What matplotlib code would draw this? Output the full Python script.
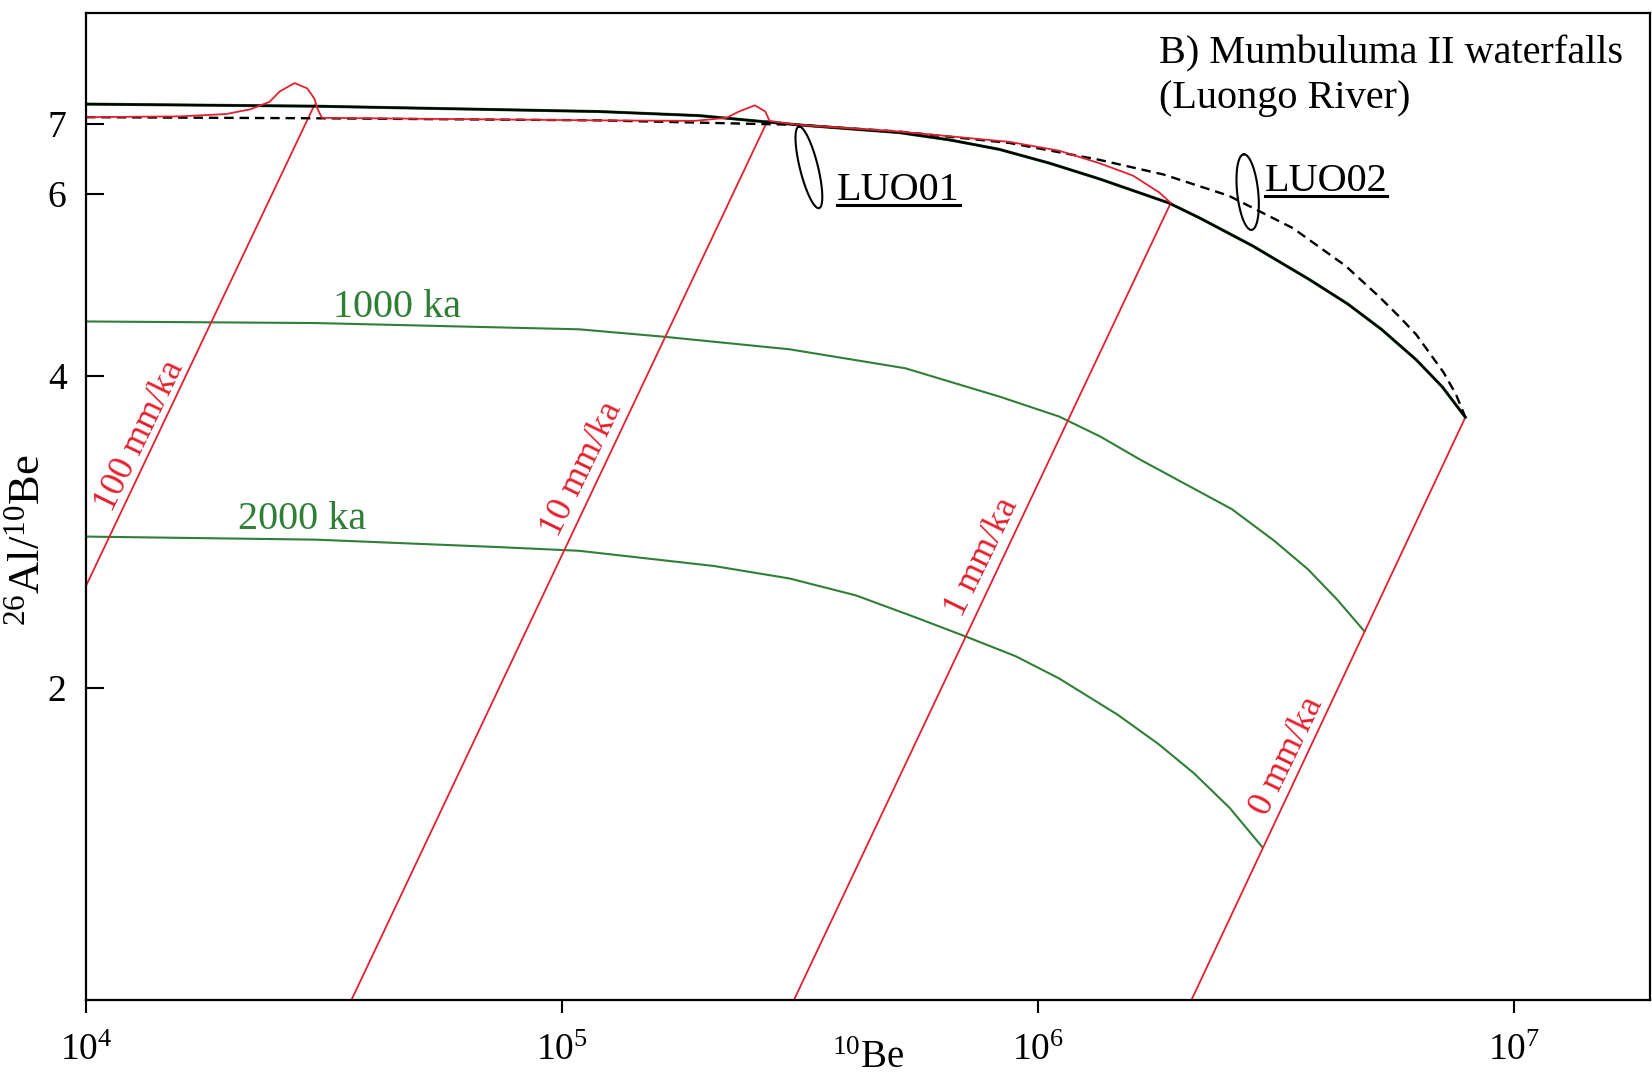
import numpy as np
import matplotlib.pyplot as plt
from matplotlib.lines import Line2D
from matplotlib.transforms import IdentityTransform
from matplotlib.ticker import NullLocator

plt.rcParams['font.family'] = ['Liberation Serif', 'DejaVu Serif']
plt.rcParams['mathtext.fontset'] = 'custom'
plt.rcParams['mathtext.rm'] = 'Liberation Serif'
plt.rcParams['mathtext.it'] = 'Liberation Serif:italic'
plt.rcParams['mathtext.bf'] = 'Liberation Serif:bold'

RED = '#e3202f'
GREEN = '#2f7f36'

# steady state erosion curve (solid black)
ss_be = [1.0e4, 3.035e4, 1.195e5, 1.939e5, 3.131e5, 5.105e5, 6.52e5, 8.284e5,
         1.056e6, 1.344e6, 1.881e6, 2.181e6, 2.827e6, 3.72e6, 4.472e6, 5.263e6,
         6.23e6, 7.07e6, 7.90e6]
ss_r = [7.32, 7.286, 7.20, 7.135, 6.99, 6.871, 6.76, 6.62,
        6.42, 6.20, 5.877, 5.686, 5.34, 4.955, 4.695, 4.438,
        4.147, 3.904, 3.65]

# constant exposure curve (dashed black)
ce_be = [1.0e4, 3.035e4, 1.195e5, 3.131e5, 5.105e5, 8.716e5, 1.344e6, 1.834e6,
         2.514e6, 3.431e6, 4.426e6, 5.21e6, 5.77e6, 6.23e6, 7.108e6, 7.55e6, 7.90e6]
ce_r = [7.11, 7.093, 7.06, 6.99, 6.887, 6.714, 6.468, 6.26,
        5.972, 5.556, 5.11, 4.77, 4.553, 4.386, 4.033, 3.84, 3.65]

# red curve along the top
top_be = [1.0e4, 1.574e4, 1.969e4, 2.213e4, 2.427e4, 2.553e4, 2.742e4, 2.915e4,
          3.020e4, 3.066e4, 3.130e4, 5.05e4, 1.195e5, 1.900e5, 2.214e5, 2.353e5,
          2.540e5, 2.673e5, 2.728e5, 3.131e5, 5.105e5, 8.716e5, 1.107e6, 1.344e6,
          1.582e6, 1.797e6, 1.90e6]
top_r = [7.11, 7.123, 7.16, 7.236, 7.355, 7.53, 7.67, 7.58,
         7.405, 7.236, 7.10, 7.085, 7.06, 7.052, 7.10, 7.20,
         7.30, 7.20, 7.052, 6.99, 6.887, 6.73, 6.60, 6.42,
         6.245, 6.015, 5.877]

# burial paths
rate_labels = ['100 mm/ka', '10 mm/ka', '1 mm/ka', '0 mm/ka']
rate_be_top = [3.02e4, 2.70e5, 1.90e6, 7.90e6]
rate_r_top = [7.31, 7.05, 5.877, 3.65]
rate_be_bot = [1.0e4, 3.61e4, 3.07e5, 2.10e6]
rate_r_bot = [2.51, 1.0, 1.0, 1.0]
rate_lab_be = [1.297e4, 1.101e5, 7.63e5, 3.33e6]
rate_lab_r = [3.50, 3.252, 2.673, 1.72]

# burial isochrons
iso_labels = ['1000 ka', '2000 ka']
iso1000_be = [1.0e4, 3.035e4, 1.085e5, 1.631e5, 3.006e5, 5.26e5, 8.32e5,
              1.107e6, 1.351e6, 1.639e6, 2.083e6, 2.553e6, 3.131e6, 3.685e6,
              4.25e6, 4.85e6]
iso1000_r = [4.516, 4.50, 4.438, 4.366, 4.245, 4.07, 3.82,
             3.656, 3.497, 3.322, 3.13, 2.976, 2.775, 2.605,
             2.434, 2.268]
iso2000_be = [1.0e4, 3.035e4, 7.405e4, 1.085e5, 2.083e5, 3.006e5, 4.143e5, 5.54e5,
              7.145e5, 8.98e5, 1.107e6, 1.466e6, 1.787e6, 2.125e6, 2.527e6, 2.96e6]
iso2000_r = [2.80, 2.781, 2.735, 2.713, 2.623, 2.551, 2.457, 2.339,
             2.237, 2.146, 2.043, 1.886, 1.767, 1.655, 1.532, 1.404]
iso_lab_be = [4.506e4, 2.842e4]
iso_lab_r = [4.56, 2.847]

# samples
samples = ['LUO01', 'LUO02']
sample_be = [3.30e5, 2.756e6]
sample_r = [6.36, 6.02]
sample_a = [42, 38]      # semi-major (px)
sample_b = [9, 10.5]     # semi-minor (px)
sample_ang = [104, 96]
sample_lab_be = [3.78e5, 2.99e6]
sample_lab_r = [5.916, 6.03]

fig = plt.figure(figsize=(16.52, 10.78), dpi=100)
ax = fig.add_axes([0.0521, 0.0724, 0.9467, 0.9159])
ax.set_xscale('log')
ax.set_yscale('log')
ax.set_xlim(1e4, 1.93e7)
ax.set_ylim(1.0, 8.97)

ax.plot(iso1000_be, iso1000_r, color=GREEN, lw=1.5)
ax.plot(iso2000_be, iso2000_r, color=GREEN, lw=1.5)
for lab, x, y in zip(iso_labels, iso_lab_be, iso_lab_r):
    ax.text(x, y, lab, color=GREEN, fontsize=29, ha='center', va='baseline')

for i in range(4):
    ax.plot([rate_be_top[i], rate_be_bot[i]], [rate_r_top[i], rate_r_bot[i]],
            color=RED, lw=1.3)
    ax.text(rate_lab_be[i], rate_lab_r[i], rate_labels[i], color=RED, fontsize=26,
            rotation=64, rotation_mode='anchor', ha='center', va='center')

ax.plot(ss_be, ss_r, color=GREEN, lw=2.2)
ax.plot(ss_be, ss_r, color='black', lw=1.7)
ax.plot(ce_be, ce_r, color='black', lw=1.7, linestyle=(0, (4, 2.5)))
ax.plot(top_be, top_r, color=RED, lw=1.3)

t = np.linspace(0, 2 * np.pi, 120)
for i in range(2):
    cx, cy = ax.transData.transform((sample_be[i], sample_r[i]))
    th = np.radians(sample_ang[i])
    px = cx + sample_a[i] * np.cos(t) * np.cos(th) - sample_b[i] * np.sin(t) * np.sin(th)
    py = cy + sample_a[i] * np.cos(t) * np.sin(th) + sample_b[i] * np.sin(t) * np.cos(th)
    xy = ax.transData.inverted().transform(np.column_stack([px, py]))
    ax.plot(xy[:, 0], xy[:, 1], color='black', lw=1.5)

ax.text(1.797e6, 8.02, 'B) Mumbuluma II waterfalls', fontsize=29, ha='left', va='baseline')
ax.text(1.797e6, 7.25, '(Luongo River)', fontsize=29, ha='left', va='baseline')

labs = []
for i in range(2):
    labs.append(ax.text(sample_lab_be[i], sample_lab_r[i], samples[i], fontsize=29,
                        ha='left', va='baseline'))

ax.set_yticks([2, 4, 6, 7])
ax.set_yticklabels(['2', '4', '6', '7'])
ax.set_xticks([1e4, 1e5, 1e6, 1e7])
ax.xaxis.set_minor_locator(NullLocator())
ax.yaxis.set_minor_locator(NullLocator())
ax.tick_params(axis='x', direction='out', length=9, width=1.5, labelsize=27, pad=15)
ax.tick_params(axis='y', direction='in', length=13, width=1.5, labelsize=27, pad=14)
for s in ax.spines.values():
    s.set_linewidth(1.6)

ax.set_xlabel('$^{10}$Be', fontsize=28)
ax.xaxis.set_label_coords(0.5, -0.041)
ax.set_ylabel('$^{26}$Al/$^{10}$Be', fontsize=32)
ax.yaxis.set_label_coords(-0.024, 0.466)

fig.canvas.draw()
r = fig.canvas.get_renderer()
for i, lab in enumerate(labs):
    bb = lab.get_window_extent(renderer=r)
    bx, by = ax.transData.transform((sample_lab_be[i], sample_lab_r[i]))
    fig.add_artist(Line2D([bb.x0, bb.x1], [by - 5, by - 5], color='black', lw=2.2,
                          transform=IdentityTransform()))

fig.savefig('out.png', dpi=100)
